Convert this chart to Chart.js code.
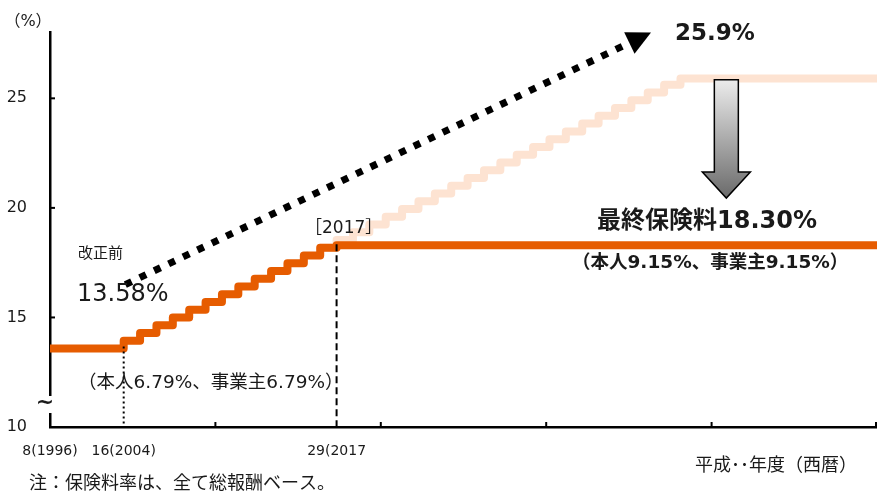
<!DOCTYPE html>
<html>
<head>
<meta charset="utf-8">
<script src="https://cdn.jsdelivr.net/npm/chart.js@4"></script>
<style>
  html, body { margin: 0; padding: 0; background: #fff; }
  #wrap { width: 877px; height: 493px; }
</style>
</head>
<body>
<div id="wrap"><canvas id="chart1"></canvas></div>
<script>
// 改正後の保険料率（年度, %）
const actualYears = [1996, 2004, 2005, 2006, 2007, 2008, 2009, 2010, 2011, 2012, 2013, 2014, 2015, 2016, 2017, 2050];
const actualRates = [13.58, 13.934, 14.288, 14.642, 14.996, 15.35, 15.704, 16.058, 16.412, 16.766, 17.12, 17.474, 17.828, 18.182, 18.30, 18.30];

// 改正前の計画（最終 25.9%）
const planYears = [2016, 2017, 2018, 2019, 2020, 2021, 2022, 2023, 2024, 2025, 2026, 2027, 2028, 2029, 2030, 2031, 2032, 2033, 2034, 2035, 2036, 2037, 2038, 2050];
const planRates = [18.182, 18.536, 18.89, 19.244, 19.598, 19.952, 20.306, 20.66, 21.014, 21.368, 21.722, 22.076, 22.43, 22.784, 23.138, 23.492, 23.846, 24.2, 24.554, 24.908, 25.262, 25.616, 25.9, 25.9];

const yTicks = [10, 15, 20, 25];
const xTickYears = [1996, 2004, 2017];
const xTickLabels = ['8(1996)', '16(2004)', '29(2017'];

const FONT = "'DejaVu Sans', 'Noto Sans CJK JP', sans-serif";
const TEXT_COLOR = '#1a1a1a';

// 1996〜2004 は横軸を縮めて描く
function axisX(year) {
  return year < 2004 ? 2004 - (2004 - year) * 0.5625 : year;
}

function toPoints(years, rates) {
  return years.map((yr, i) => ({ x: axisX(yr), y: rates[i] }));
}

function text(ctx, str, x, y, size, bold, align) {
  ctx.font = (bold ? 'bold ' : '') + size + 'px ' + FONT;
  ctx.fillStyle = TEXT_COLOR;
  ctx.textAlign = align || 'left';
  ctx.textBaseline = 'middle';
  ctx.fillText(str, x, y);
}

const decorations = {
  id: 'decorations',
  afterDraw(chart) {
    const ctx = chart.ctx;
    const xs = chart.scales.x;
    const ys = chart.scales.y;
    const area = chart.chartArea;
    ctx.save();

    // 縦の補助線（2004 点線, 2017 破線）
    ctx.strokeStyle = '#000';
    ctx.lineWidth = 2;
    ctx.setLineDash([2, 3]);
    ctx.beginPath();
    ctx.moveTo(xs.getPixelForValue(axisX(2004)), ys.getPixelForValue(13.58) - 2);
    ctx.lineTo(xs.getPixelForValue(axisX(2004)), area.bottom);
    ctx.stroke();
    ctx.setLineDash([7, 4]);
    ctx.beginPath();
    ctx.moveTo(xs.getPixelForValue(axisX(2017)), ys.getPixelForValue(18.30) - 1);
    ctx.lineTo(xs.getPixelForValue(axisX(2017)), area.bottom);
    ctx.stroke();
    ctx.setLineDash([]);

    // 軸の内側の目盛り
    ctx.lineWidth = 2;
    yTicks.slice(1).forEach(v => {
      const py = ys.getPixelForValue(v);
      ctx.beginPath();
      ctx.moveTo(area.left, py);
      ctx.lineTo(area.left + 5, py);
      ctx.stroke();
    });
    for (let i = 1; i <= 5; i++) {
      const px = area.left + (area.right - area.left) * i / 5 - (i === 5 ? 1 : 0);
      ctx.beginPath();
      ctx.moveTo(px, area.bottom);
      ctx.lineTo(px, area.bottom - 5);
      ctx.stroke();
    }

    // 縦軸の省略記号
    ctx.fillStyle = '#fff';
    ctx.fillRect(area.left - 4, 396, 8, 17);
    text(ctx, '~', area.left - 5, 403, 22, true, 'center');

    // 点線の矢印
    const sx = xs.getPixelForValue(2004.1), sy = ys.getPixelForValue(16.5);
    const tx = xs.getPixelForValue(2036.2), ty = ys.getPixelForValue(28.0);
    const len = Math.hypot(tx - sx, ty - sy);
    const dx = (tx - sx) / len, dy = (ty - sy) / len;
    const bx = tx - dx * 24, by = ty - dy * 24;
    ctx.strokeStyle = '#000';
    ctx.lineWidth = 7;
    ctx.setLineDash([7, 9]);
    ctx.beginPath();
    ctx.moveTo(sx, sy);
    ctx.lineTo(bx - dx * 4, by - dy * 4);
    ctx.stroke();
    ctx.setLineDash([]);
    ctx.fillStyle = '#000';
    ctx.beginPath();
    ctx.moveTo(tx, ty);
    ctx.lineTo(bx - dy * 12, by + dx * 12);
    ctx.lineTo(bx + dy * 12, by - dx * 12);
    ctx.closePath();
    ctx.fill();

    // 下向きのグレー矢印
    const cx = xs.getPixelForValue(2040.8);
    const top = ys.getPixelForValue(25.85);
    const tip = ys.getPixelForValue(20.45);
    const headTop = tip - 26;
    const grad = ctx.createLinearGradient(0, top, 0, tip);
    grad.addColorStop(0, '#ececec');
    grad.addColorStop(1, '#6a6a6a');
    ctx.beginPath();
    ctx.moveTo(cx - 12, top);
    ctx.lineTo(cx + 12, top);
    ctx.lineTo(cx + 12, headTop);
    ctx.lineTo(cx + 24, headTop);
    ctx.lineTo(cx, tip);
    ctx.lineTo(cx - 24, headTop);
    ctx.lineTo(cx - 12, headTop);
    ctx.closePath();
    ctx.fillStyle = grad;
    ctx.fill();
    ctx.lineWidth = 1.5;
    ctx.strokeStyle = '#000';
    ctx.stroke();

    // 文字
    text(ctx, '（%）', 28, 22, 16, false, 'center');
    text(ctx, '改正前', 78, 254, 15, false);
    text(ctx, '13.58%', 77, 295, 24, false);
    text(ctx, '（本人6.79%、事業主6.79%）', 78, 383, 18.5, false);
    text(ctx, '［2017］', 305, 229, 17, false);
    text(ctx, '25.9%', 675, 34, 23, true);
    text(ctx, '最終保険料18.30%', 597, 222, 24, true);
    text(ctx, '（本人9.15%、事業主9.15%）', 572, 263, 18.5, true);
    text(ctx, '平成･･年度（西暦）', 695, 466, 18, false);
    text(ctx, '注：保険料率は、全て総報酬ベース。', 29, 484, 18, false);

    ctx.restore();
  }
};

new Chart(document.getElementById('chart1'), {
  type: 'line',
  data: {
    datasets: [{
      label: '改正後',
      data: toPoints(actualYears, actualRates),
      borderColor: '#E65C00',
      borderWidth: 8,
      stepped: true,
      borderJoinStyle: 'round',
      borderCapStyle: 'round',
      pointRadius: 0
    }, {
      label: '改正前',
      data: toPoints(planYears, planRates),
      borderColor: '#FDE3D2',
      borderWidth: 8,
      stepped: true,
      borderJoinStyle: 'round',
      borderCapStyle: 'round',
      pointRadius: 0
    }]
  },
  options: {
    responsive: true,
    maintainAspectRatio: false,
    animation: false,
    layout: { padding: { top: 27, right: 0, bottom: 0, left: 0 } },
    plugins: { legend: { display: false }, tooltip: { enabled: false } },
    scales: {
      x: {
        type: 'linear',
        min: axisX(1996),
        max: 2050,
        afterBuildTicks: scale => { scale.ticks = xTickYears.map(yr => ({ value: axisX(yr) })); },
        afterFit: scale => { scale.height = 66; },
        grid: { drawOnChartArea: false, drawTicks: false },
        border: { color: '#000', width: 2.5 },
        ticks: {
          autoSkip: false,
          maxRotation: 0,
          padding: 16,
          color: TEXT_COLOR,
          font: { family: FONT, size: 14 },
          callback: (value, index) => xTickLabels[index]
        }
      },
      y: {
        min: 10,
        max: 28,
        afterBuildTicks: scale => { scale.ticks = yTicks.map(v => ({ value: v })); },
        afterFit: scale => { scale.width = 50; },
        grid: { drawOnChartArea: false, drawTicks: false },
        border: { color: '#000', width: 2.5 },
        ticks: {
          padding: 23,
          color: TEXT_COLOR,
          font: { family: FONT, size: 16 }
        }
      }
    }
  },
  plugins: [decorations]
});
</script>
</body>
</html>
